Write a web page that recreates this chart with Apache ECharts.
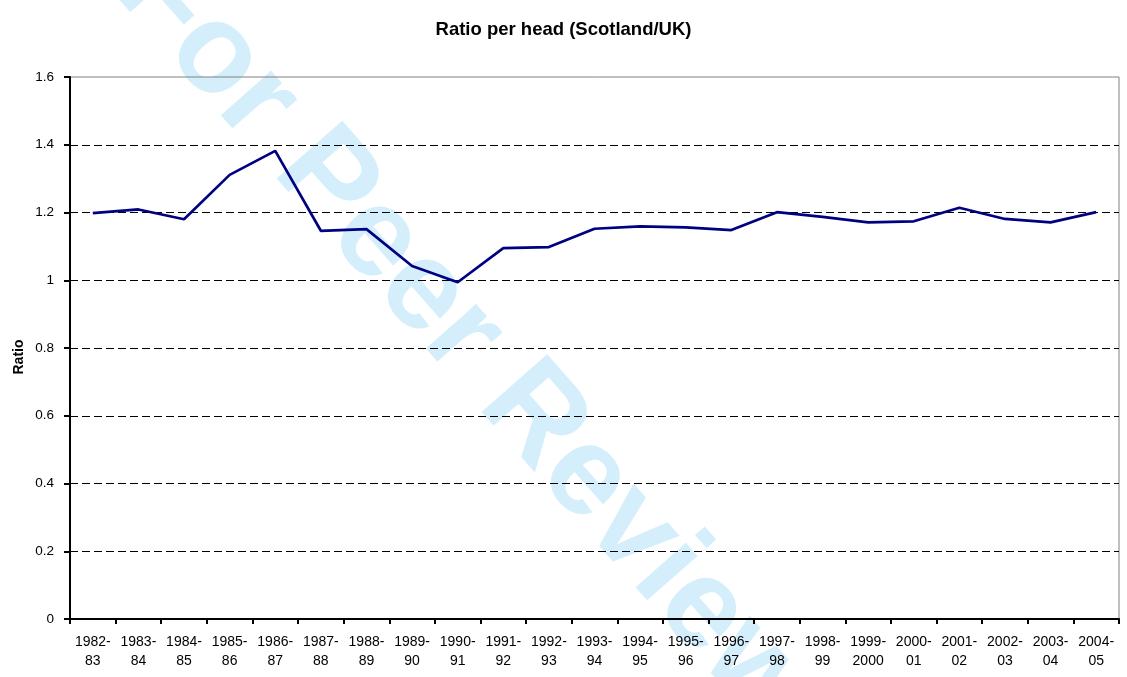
<!DOCTYPE html>
<html>
<head>
<meta charset="utf-8">
<script src="https://cdn.jsdelivr.net/npm/echarts@6/dist/echarts.min.js"></script>
<style>
html,body{margin:0;padding:0;background:#fff;}
#chart{width:1127px;height:677px;}
</style>
</head>
<body>
<div id="chart"></div>
<script>
const categories = ["1982-83","1983-84","1984-85","1985-86","1986-87","1987-88","1988-89","1989-90","1990-91","1991-92","1992-93","1993-94","1994-95","1995-96","1996-97","1997-98","1998-99","1999-2000","2000-01","2001-02","2002-03","2003-04","2004-05"];
const ratioValues = [1.198,1.209,1.180,1.311,1.382,1.146,1.151,1.042,0.994,1.095,1.098,1.152,1.159,1.156,1.148,1.201,1.187,1.171,1.174,1.214,1.181,1.171,1.201];
const yTicks = {min:0, max:1.6, interval:0.2};

const chart = echarts.init(document.getElementById('chart'), null, {renderer:'canvas'});
const font = 'Liberation Sans, Arial, Helvetica, sans-serif';
chart.setOption({
  backgroundColor:'#ffffff',
  animation:false,
  title:{
    text:'Ratio per head (Scotland/UK)',
    left:'center', top:15,
    textStyle:{fontFamily:font, fontSize:18.5, fontWeight:'bold', color:'#000'}
  },
  graphic:[{
    type:'text',
    x:465, y:340,
    rotation:-0.85,
    z:-100,
    silent:true,
    style:{
      text:'For Peer Review',
      align:'center', verticalAlign:'middle',
      fill:'#d4effb',
      font:'bold 127px Liberation Sans, Arial, Helvetica, sans-serif'
    }
  },{
    type:'text',
    x:19, y:357,
    rotation:Math.PI/2,
    silent:true,
    style:{
      text:'Ratio',
      align:'center', verticalAlign:'middle',
      fill:'#000',
      font:'bold 14px Liberation Sans, Arial, Helvetica, sans-serif'
    }
  }],
  grid:{left:70, right:8, top:77, bottom:58, show:true, borderColor:'#808080', borderWidth:1, backgroundColor:'transparent'},
  xAxis:{
    type:'category',
    data:categories,
    boundaryGap:true,
    axisLine:{lineStyle:{color:'#000', width:2}},
    axisTick:{show:true, alignWithLabel:false, length:5, lineStyle:{color:'#000', width:2}},
    axisLabel:{
      interval:0, margin:14, color:'#000', fontFamily:font, fontSize:14, lineHeight:19,
      formatter:function(v){ const i=v.indexOf('-'); return v.slice(0,i+1)+'\n'+v.slice(i+1); }
    },
    splitLine:{show:false}
  },
  yAxis:{
    type:'value',
    min:yTicks.min, max:yTicks.max, interval:yTicks.interval,
    axisLine:{show:true, lineStyle:{color:'#000', width:2}},
    axisTick:{show:true, length:6, lineStyle:{color:'#000', width:2}},
    axisLabel:{color:'#000', fontFamily:font, fontSize:13.5, margin:16,
      formatter:function(v){ return String(Math.round(v*10)/10); }},
    splitLine:{show:true, showMinLine:false, showMaxLine:false, lineStyle:{color:'#000', width:1, type:[8,4]}}
  },
  series:[{
    type:'line',
    data:ratioValues,
    showSymbol:false,
    symbol:'none',
    lineStyle:{color:'#000080', width:2.7},
    z:5
  }]
});
</script>
</body>
</html>
